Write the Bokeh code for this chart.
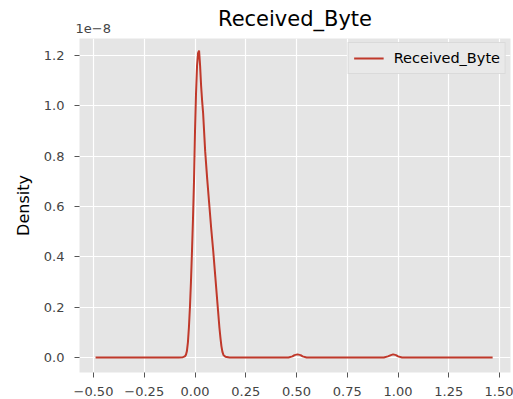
from bokeh.plotting import figure
from bokeh.models import Range1d, FixedTicker, Legend, LegendItem, Title
from bokeh.embed import file_html
from bokeh.resources import INLINE

# ---- data (density values in units of 1e-8) ----
x_vals = [-0.49, -0.20, -0.08, -0.06, -0.05, -0.045, -0.04, -0.035, -0.03, -0.025,
          -0.02, -0.015, -0.01, -0.005, 0.0, 0.005, 0.01, 0.015, 0.02, 0.025,
          0.03, 0.035, 0.04, 0.05, 0.06, 0.07, 0.08, 0.09, 0.10, 0.11,
          0.12, 0.125, 0.13, 0.135, 0.14, 0.15, 0.17, 0.30, 0.46, 0.48,
          0.49, 0.505, 0.52, 0.53, 0.55, 0.80, 0.93, 0.95, 0.965, 0.976,
          0.99, 1.00, 1.02, 1.20, 1.466]
density_e8 = [0, 0, 0, 0.001, 0.004, 0.01, 0.025, 0.06, 0.12, 0.2,
              0.30, 0.42, 0.55, 0.70, 0.90, 1.05, 1.16, 1.21, 1.22, 1.16,
              1.08, 1.02, 0.97, 0.82, 0.71, 0.61, 0.51, 0.42, 0.32, 0.22,
              0.12, 0.08, 0.045, 0.022, 0.01, 0.003, 0.0, 0, 0, 0.004,
              0.009, 0.012, 0.009, 0.004, 0, 0, 0, 0.004, 0.009, 0.012,
              0.009, 0.004, 0, 0, 0]
series_name = "Received_Byte"
x_ticks = [-0.5, -0.25, 0.0, 0.25, 0.5, 0.75, 1.0, 1.25, 1.5]
x_tick_labels = ["\u22120.50", "\u22120.25", "0.00", "0.25", "0.50", "0.75", "1.00", "1.25", "1.50"]
y_ticks = [0.0, 0.2, 0.4, 0.6, 0.8, 1.0, 1.2]
y_tick_labels = ["0.0", "0.2", "0.4", "0.6", "0.8", "1.0", "1.2"]
y_offset_text = "1e\u22128"

FONT = "DejaVu Sans"
LINE_COLOR = "#C0392B"

p = figure(width=513, height=399, output_backend="svg", toolbar_location=None,
           title=None,
           x_range=Range1d(-0.569, 1.554), y_range=Range1d(-0.06, 1.268),
           min_border_left=79, min_border_right=3, min_border_top=38, min_border_bottom=27,
           background_fill_color="#E5E5E5", border_fill_color="white", outline_line_color=None)

# offset text (closest to the frame) then the main title
t_off = Title(text=y_offset_text, align="left", offset=-4, standoff=12,
              text_font=FONT, text_font_size="13px", text_font_style="normal",
              text_color="#444444")
t_main = Title(text=series_name, align="center", standoff=-31,
               text_font=FONT, text_font_size="21px", text_font_style="normal",
               text_color="black")
p.add_layout(t_off, "above")
p.add_layout(t_main, "above")

for ax in (p.xaxis, p.yaxis):
    ax.axis_line_color = None
    ax.major_tick_in = 0
    ax.major_tick_out = 5
    ax.major_tick_line_color = "#555555"
    ax.minor_tick_line_color = None
    ax.major_label_text_font = FONT
    ax.major_label_text_font_size = "13px"
    ax.major_label_text_color = "#444444"

p.xaxis.ticker = FixedTicker(ticks=x_ticks)
p.xaxis.major_label_overrides = {t: l for t, l in zip(x_ticks, x_tick_labels)}
p.xaxis.major_label_standoff = 9
p.yaxis.ticker = FixedTicker(ticks=y_ticks)
p.yaxis.major_label_overrides = {t: l for t, l in zip(y_ticks, y_tick_labels)}
p.yaxis.major_label_standoff = 10
p.yaxis.axis_label = "Density"
p.yaxis.axis_label_text_font = FONT
p.yaxis.axis_label_text_font_size = "16px"
p.yaxis.axis_label_text_font_style = "normal"
p.yaxis.axis_label_text_color = "black"
p.yaxis.axis_label_standoff = 8

p.grid.grid_line_color = "white"
p.grid.grid_line_width = 1.2

r = p.line(x_vals, density_e8, line_color=LINE_COLOR, line_width=2)

legend = Legend(items=[LegendItem(label=series_name, renderers=[r])],
                location="top_right", background_fill_color="#E9E9E9",
                border_line_color="#D0D0D0", border_line_alpha=0.6,
                label_text_font=FONT, label_text_font_size="14.5px",
                label_text_color="black", glyph_width=30, label_standoff=10,
                padding=5, margin=4, spacing=0)
p.add_layout(legend)

open("out.html", "w").write(file_html(p, INLINE))
